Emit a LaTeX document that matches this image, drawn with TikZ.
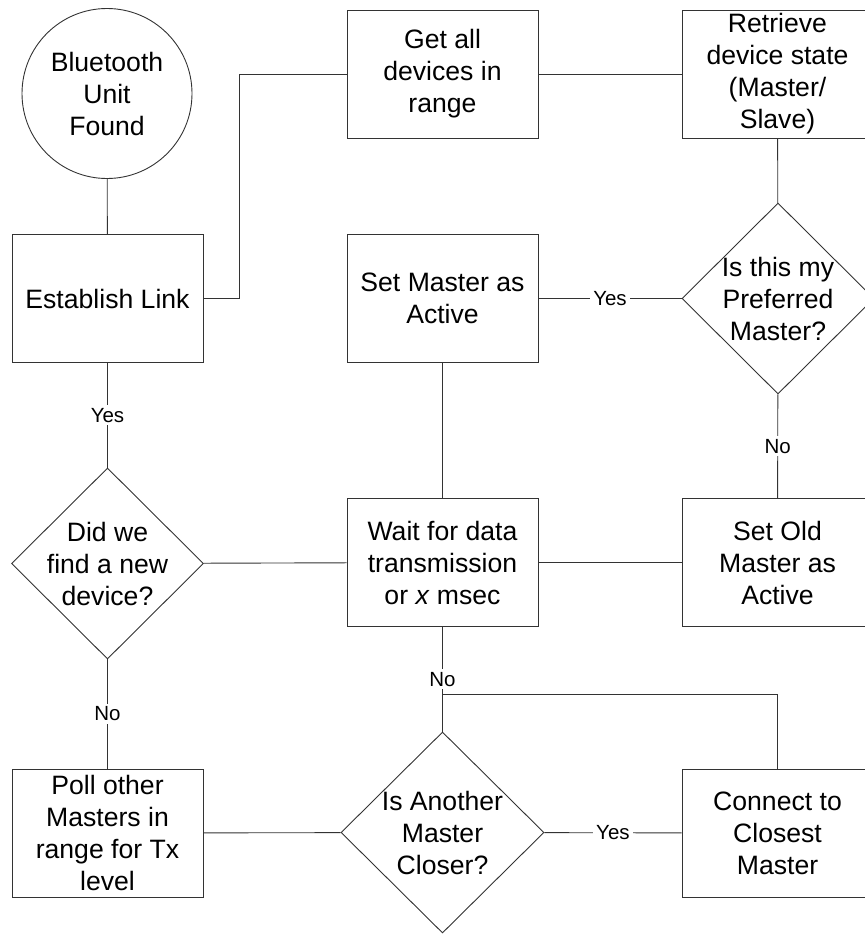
\documentclass[tikz,border=0pt]{standalone}
\usepackage{fontspec}
\setmainfont{Liberation Sans}
\usetikzlibrary{shapes.geometric}
\begin{document}
\begin{tikzpicture}[x=1pt,y=-1pt,
  ln/.style={draw=black!80,line width=0.9pt},
  txt/.style={font=\fontsize{26.6}{32}\selectfont,align=center},
  box/.style={ln,rectangle,minimum width=191pt,minimum height=128pt,inner sep=0pt,txt},
  circ/.style={ln,circle,minimum size=170pt,inner sep=0pt,txt},
  dia/.style={ln,diamond,inner sep=0pt,minimum width=192pt,minimum height=191pt},
  lbl/.style={fill=white,draw=none,inner sep=3pt,font=\fontsize{20.5}{23}\selectfont}]
\useasboundingbox (0,0) rectangle (865,935);
\node[circ] (circ) at (107,93.5) {Bluetooth\\Unit\\Found};
\node[box] (link) at (107.5,298.5) {Establish Link};
\node[box] (get) at (442.5,74) {Get all\\devices in\\range};
\node[box] (ret) at (777.5,74) {Retrieve\\device state\\(Master/\\Slave)};
\node[dia,label={[txt]center:Is this my\\Preferred\\Master?}] (pref) at (778,298.5) {};
\node[box] (setm) at (442.5,298.5) {Set Master as\\Active};
\node[dia,label={[txt]center:Did we\\find a new\\device?}] (did) at (107.5,563.5) {};
\node[box] (wait) at (442.5,562.5) {Wait for data\\transmission\\or \textit{x} msec};
\node[box] (setold) at (777.5,562.5) {Set Old\\Master as\\Active};
\node[box] (poll) at (107.5,833) {Poll other\\Masters in\\range for Tx\\level};
\node[dia,minimum width=203pt,minimum height=201pt,label={[txt]center:Is Another\\Master\\Closer?}] (another) at (442.5,832.5) {};
\node[box] (conn) at (777.5,833) {Connect to\\Closest\\Master};

\draw[ln] (circ) -- (link);
\draw[ln] (link.east) -- ++(36,0) |- (get.west);
\draw[ln] (get) -- (ret);
\draw[ln] (ret) -- (pref);
\draw[ln] (pref) -- node[lbl]{Yes} (setm);
\draw[ln] (pref) -- node[lbl]{No} (setold);
\draw[ln] (setm) -- (wait);
\draw[ln] (setold) -- (wait);
\draw[ln] (wait) -- (did);
\draw[ln] (link) -- node[lbl]{Yes} (did);
\draw[ln] (did) -- node[lbl]{No} (poll);
\draw[ln] (poll) -- (another);
\draw[ln] (another) -- node[lbl]{Yes} (conn);
\draw[ln] (wait.south) -- node[lbl]{No} (another.north);
\draw[ln] (conn.north) -- ++(0,-74) -| (another.north);
\end{tikzpicture}
\end{document}
